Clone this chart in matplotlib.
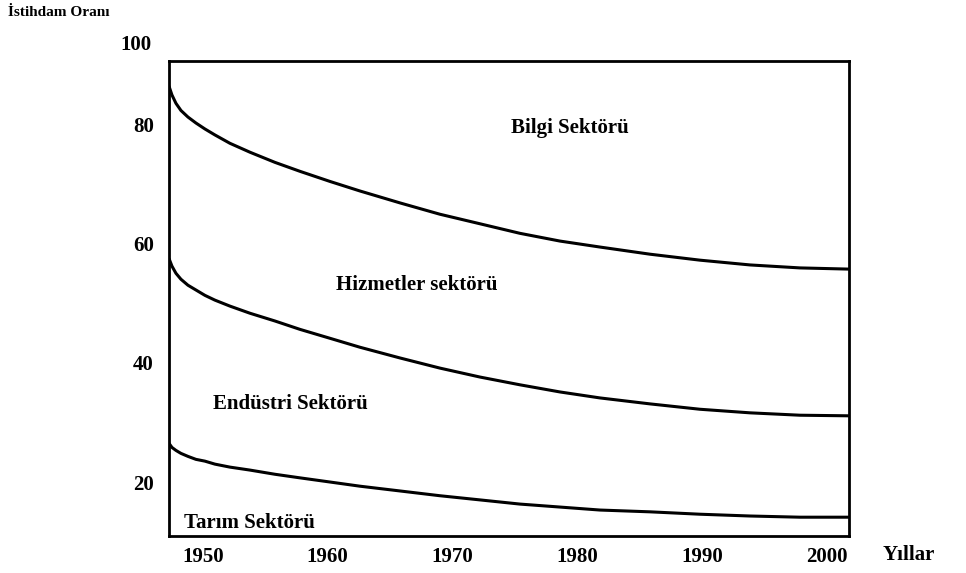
import matplotlib.pyplot as plt

plt.rcParams["font.family"] = ["Liberation Serif", "DejaVu Serif"]

# Values (employment share, %)
years = [1947.28, 1947.52, 1947.84, 1948.24, 1948.8, 1949.44, 1950.16, 1950.96,
         1952.16, 1953.77, 1955.77, 1957.77, 1960.18, 1962.58, 1965.79, 1968.99,
         1972.2, 1975.4, 1978.61, 1981.81, 1985.82, 1989.82, 1993.83, 1997.84, 2001.76]
bilgi_alt = [86.4, 84.9, 83.5, 82.3, 81.2, 80.2, 79.2, 78.2, 76.8, 75.3,
             73.6, 72.1, 70.4, 68.8, 66.8, 64.9, 63.3, 61.7, 60.4, 59.4,
             58.2, 57.2, 56.4, 55.9, 55.7]
hizmet_alt = [57.5, 56.2, 55.0, 54.0, 53.0, 52.2, 51.3, 50.5, 49.5, 48.3,
              47.0, 45.6, 44.1, 42.6, 40.8, 39.1, 37.6, 36.3, 35.1, 34.1,
              33.1, 32.2, 31.6, 31.2, 31.1]
endustri_alt = [26.5, 25.8, 25.3, 24.8, 24.3, 23.8, 23.5, 23.0, 22.5, 22.0,
                21.3, 20.7, 20.0, 19.3, 18.5, 17.7, 17.0, 16.3, 15.8, 15.3,
                15.0, 14.6, 14.3, 14.1, 14.1]

x_ticks = [1950, 1960, 1970, 1980, 1990, 2000]
y_ticks = [20, 40, 60, 80]

sectors = ["Bilgi Sektörü", "Hizmetler sektörü", "Endüstri Sektörü", "Tarım Sektörü"]

fig = plt.figure(figsize=(9.66, 5.73), dpi=100)
ax = fig.add_axes([0.1749, 0.0646, 0.7039, 0.8290])

for curve in [bilgi_alt, hizmet_alt, endustri_alt]:
    ax.plot(years, curve, color="black", lw=2.2, solid_capstyle="butt")

ax.set_xlim(1947.28, 2001.76)
ax.set_ylim(10.95, 90.6)

for s in ax.spines.values():
    s.set_linewidth(2.0)

ax.set_xticks(x_ticks)
ax.set_yticks(y_ticks)
ax.tick_params(length=0, labelsize=15)
ax.tick_params(axis="x", pad=8)
ax.tick_params(axis="y", pad=11)
for lab in ax.get_xticklabels() + ax.get_yticklabels():
    lab.set_fontweight("bold")

# the "100" label is drawn above the frame in the original
ax.text(-0.025, 1.034, "100", transform=ax.transAxes, ha="right", va="center",
        fontsize=15, fontweight="bold")
ax.text(1.05, -0.02, "Yıllar", transform=ax.transAxes, ha="left", va="top",
        fontsize=15, fontweight="bold")
fig.text(0.008, 0.99, "İstihdam Oranı", ha="left", va="top",
         fontsize=11, fontweight="bold")

label_pos = [(1979.4, 79.4), (1967.15, 53.1), (1957.0, 33.0), (1953.7, 13.2)]
for name, (lx, ly) in zip(sectors, label_pos):
    ax.text(lx, ly, name, ha="center", va="center", fontsize=15,
            fontweight="bold")

fig.savefig("out.png", dpi=100)
